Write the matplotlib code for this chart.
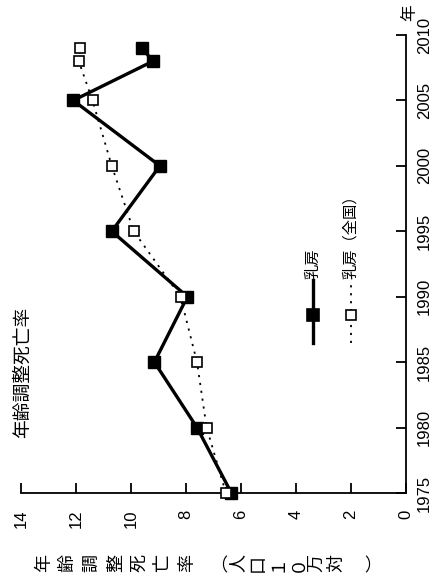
import matplotlib
matplotlib.use("Agg")
import matplotlib.pyplot as plt
from matplotlib.lines import Line2D

plt.rcParams["font.family"] = ["Liberation Sans", "Noto Sans CJK JP"]

# data
years = [1975, 1980, 1985, 1990, 1995, 2000, 2005, 2008, 2009]
rate_pref = [6.35, 7.6, 9.15, 7.95, 10.7, 8.95, 12.1, 9.2, 9.6]
rate_national = [6.55, 7.25, 7.6, 8.2, 9.9, 10.7, 11.4, 11.9, 11.85]

rate_ticks = [0, 2, 4, 6, 8, 10, 12, 14]
year_ticks = [1975, 1980, 1985, 1990, 1995, 2000, 2005, 2010]

title = "年齢調整死亡率"
# vertical-writing axis label, one glyph at a time
label_chars = ["年", "齢", "調", "整", "死", "亡", "率",
               "︵", "人", "口", "１", "０", "万", "対", "︶"]
label_x = [45, 68, 92, 117, 140, 163, 188, 222, 238, 258, 277, 297, 317, 337, 377]
legend_names = ["乳房", "乳房（全国）"]

W, H = 444, 578
fig = plt.figure(figsize=(W / 100, H / 100), dpi=100)
ax = fig.add_axes([21 / W, 1 - 493 / H, 385 / W, 458 / H])

# chart is drawn turned a quarter turn: rate runs right-to-left, years upward
ax.plot(rate_pref, years, "-", color="k", lw=2.4, marker="s", ms=9.2,
        mfc="k", mec="k", clip_on=False, zorder=3)
ax.plot(rate_national, years, color="k", lw=1.3, ls=(0, (1.2, 3.2)),
        marker="s", ms=7.8, mfc="white", mec="k", mew=1.2,
        clip_on=False, zorder=4)

ax.set_xlim(14, 0)
ax.set_ylim(1975, 2010)
ax.set_xticks(rate_ticks)
ax.set_yticks(year_ticks)
ax.yaxis.tick_right()
for s in ["top", "left"]:
    ax.spines[s].set_visible(False)
for s in ["bottom", "right"]:
    ax.spines[s].set_linewidth(1.3)
ax.tick_params(axis="both", direction="in", length=7, width=1.3, labelsize=12)
ax.tick_params(axis="x", pad=12)
ax.tick_params(axis="y", pad=8)
for t in ax.get_xticklabels():
    t.set_rotation(90)
for t in ax.get_yticklabels():
    t.set_rotation(90)
    t.set_va("center")

# legend, turned like the chart
for name, x, style, mfc, ms in [
    (legend_names[0], 0.758, "-", "k", 9.2),
    (legend_names[1], 0.857, (0, (1.2, 3.2)), "white", 7.6),
]:
    lw = 2.4 if style == "-" else 1.3
    ax.add_line(Line2D([x, x], [0.3275, 0.465], color="k", lw=lw, ls=style,
                       transform=ax.transAxes, clip_on=False))
    ax.add_line(Line2D([x], [0.3886], marker="s", ms=ms, mfc=mfc, mec="k",
                       mew=1.2, transform=ax.transAxes, clip_on=False))
    ax.text(x, 0.468, name, rotation=90, ha="center", va="bottom",
            fontsize=11, transform=ax.transAxes)

fig.text(23 / W, 1 - 372 / H, title, rotation=90, ha="center", va="center",
         fontsize=13.5)
for ch, x in zip(label_chars, label_x):
    fig.text(x / W, 1 - 563 / H, ch, rotation=90, ha="center", va="center",
             fontsize=13)
fig.text(410 / W, 1 - 13 / H, "年", rotation=90, ha="center", va="center",
         fontsize=12)

fig.savefig("out.png", dpi=100)
